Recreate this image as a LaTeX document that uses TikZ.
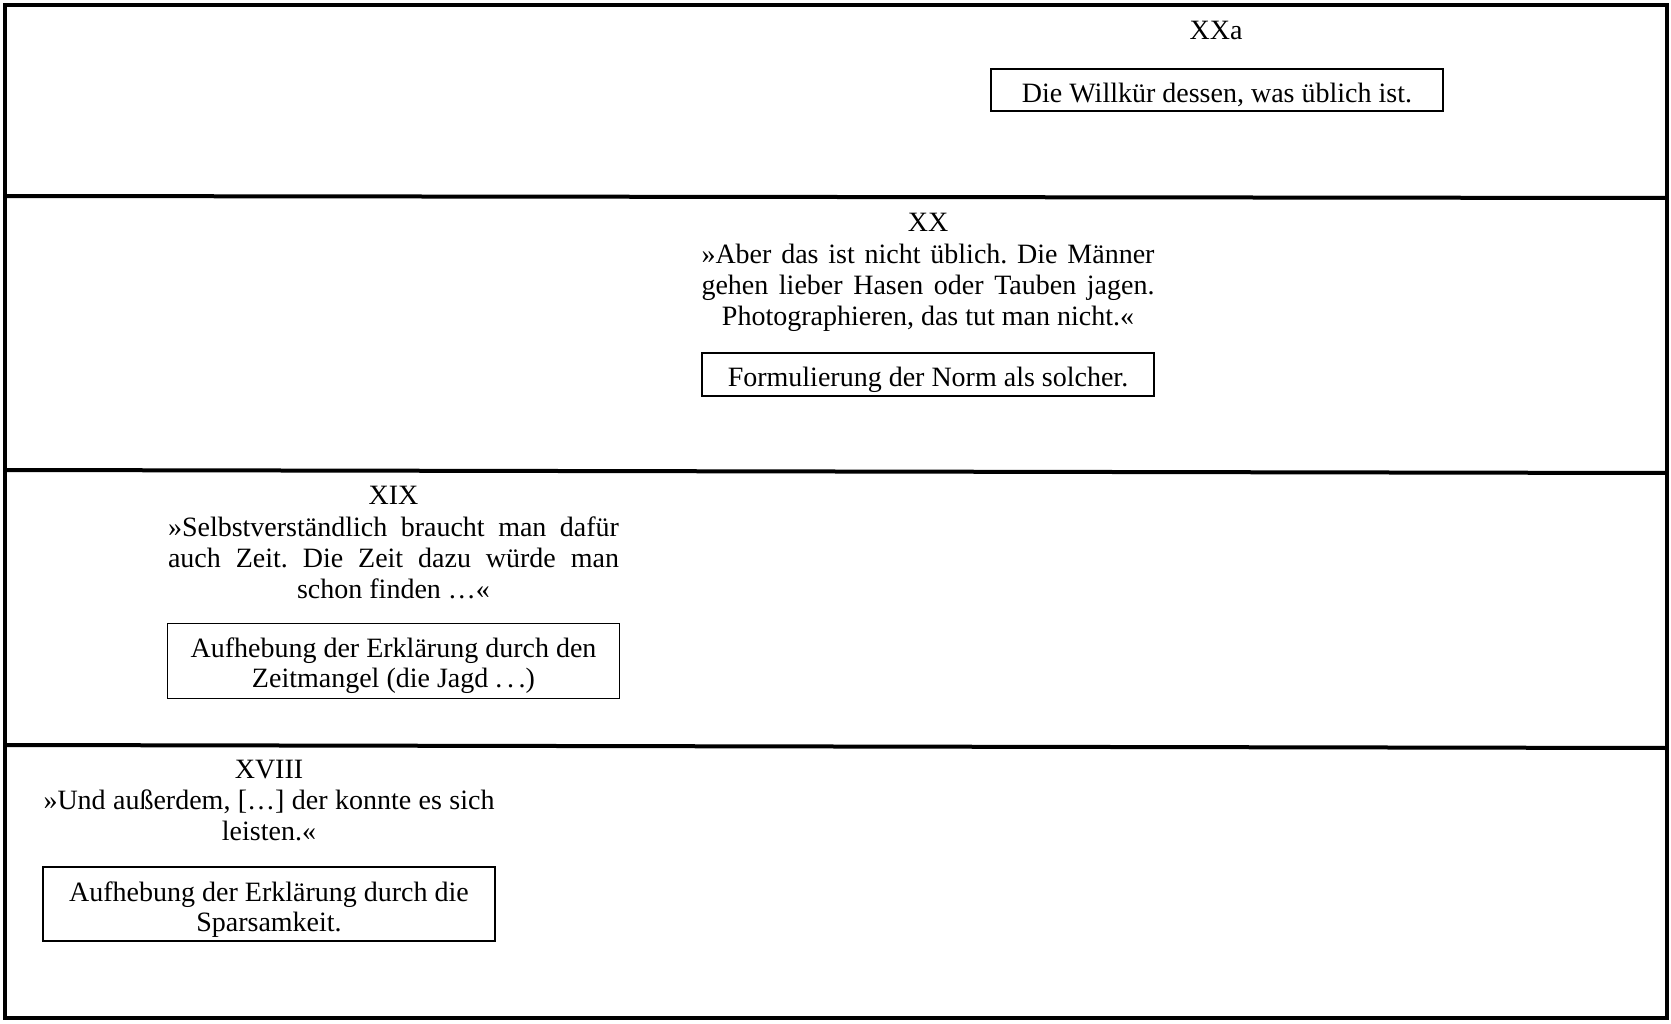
\documentclass[tikz,border=0pt]{standalone}
\usepackage{fontspec}
\setmainfont{Liberation Serif}
\frenchspacing
\newcommand{\boxstrut}{\rule{0pt}{30pt}}
\begin{document}
\begin{tikzpicture}[x=1pt,y=-1pt,
  frameline/.style={line width=4pt},
  lbl/.style={inner sep=0pt, anchor=base, font=\fontsize{28}{31}\selectfont},
  quotetext/.style={inner sep=0pt, anchor=base, align=center, font=\fontsize{28}{30.8}\selectfont},
  kbox/.style={draw, line width=1.8pt, inner sep=0pt, minimum width=452pt, align=center, font=\fontsize{28}{30}\selectfont}]
\useasboundingbox[fill=white] (0,0) rectangle (1671,1024);
% frame and separators
\coordinate (tl) at (4.5,5);
\coordinate (br) at (1667,1018);
\draw[frameline] (tl) rectangle (br);
\coordinate (s1l) at (4.5,196); \coordinate (s1r) at (1667,198);
\coordinate (s2l) at (4.5,470); \coordinate (s2r) at (1667,473);
\coordinate (s3l) at (4.5,745); \coordinate (s3r) at (1667,748);
\draw[frameline] (s1l) -- (s1r);
\draw[frameline] (s2l) -- (s2r);
\draw[frameline] (s3l) -- (s3r);
% XXa
\node[lbl] (l20a) at (1216,40) {XXa};
\node[kbox, minimum height=42pt] (b20a) at (1217,90) {\boxstrut Die Willkür dessen, was üblich ist.};
% XX
\node[lbl] (l20) at (928,232) {XX};
\node[quotetext] (q20) at (928,325.5) {\makebox[453pt][s]{»Aber das ist nicht üblich. Die Männer}\\
  \makebox[453pt][s]{gehen lieber Hasen oder Tauben jagen.}\\
  Photographieren, das tut man nicht.«};
\node[kbox, minimum height=43pt] (b20) at (928,374.5) {\boxstrut Formulierung der Norm als solcher.};
% XIX
\node[lbl] (l19) at (393.5,504) {XIX};
\node[quotetext] (q19) at (393.5,598) {\makebox[451pt][s]{»Selbstverständlich braucht man dafür}\\
  \makebox[451pt][s]{auch Zeit. Die Zeit dazu würde man}\\
  schon finden …«};
\node[kbox, minimum height=75pt] (b19) at (393.5,661) {\boxstrut Aufhebung der Erklärung durch den\\ Zeitmangel (die Jagd .\,.\,.)};
% XVIII
\node[lbl] (l18) at (269,778) {XVIII};
\node[quotetext] (q18) at (269,840) {\makebox[451pt][s]{»Und außerdem, […] der konnte es sich}\\
  leisten.«};
\node[kbox, minimum height=74pt] (b18) at (269,904) {\boxstrut Aufhebung der Erklärung durch die\\ Sparsamkeit.};
\end{tikzpicture}
\end{document}
